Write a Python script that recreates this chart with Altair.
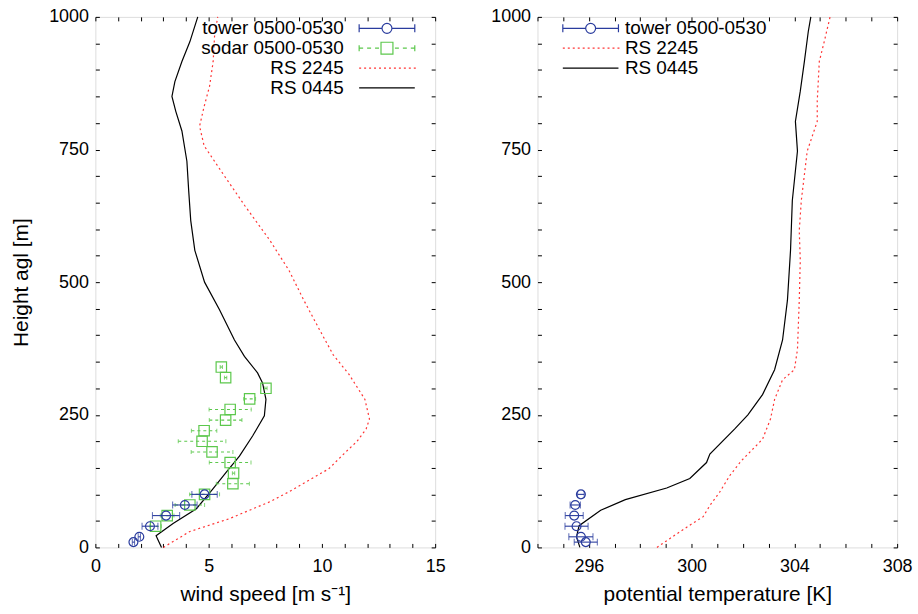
import altair as alt
import pandas as pd

# ---------------- data ----------------
ws_series = ["tower 0500-0530", "sodar 0500-0530", "RS 2245", "RS 0445"]
th_series = ["tower 0500-0530", "RS 2245", "RS 0445"]

tower_h = [10, 20, 40, 60, 80, 100]
tower_ws = [1.68, 1.94, 2.41, 3.12, 3.95, 4.82]
tower_ws_err = [0.05, 0.05, 0.35, 0.6, 0.54, 0.56]

sodar_h = [40, 60, 80, 100, 120, 140, 160, 180, 200, 220, 240, 260, 280, 300, 320, 340]
sodar_ws = [2.66, 3.17, 4.17, 4.82, 6.07, 6.1, 5.95, 5.15, 4.71, 4.8, 5.75, 5.95, 6.81, 7.53, 5.75, 5.56]
sodar_ws_err = [0.25, 0.3, 0.65, 0.66, 0.73, 0.05, 0.92, 0.92, 1.05, 0.56, 0.72, 0.93, 0.26, 0.05, 0.05, 0.05]

rs2245_ws_h = [0, 30, 54, 86, 105, 148, 176, 200, 223, 242, 279, 326, 363, 410, 466, 522, 579, 644, 700, 757, 794, 831, 869, 916, 963, 1000]
rs2245_ws = [3.0, 4.17, 5.9, 7.7, 8.55, 10.3, 10.96, 11.55, 11.95, 12.1, 11.9, 11.2, 10.5, 9.9, 9.2, 8.55, 7.7, 6.6, 5.7, 4.8, 4.6, 4.8, 5.04, 5.2, 5.26, 5.4]

rs0445_ws_h = [0, 22, 45, 73, 110, 142, 172, 210, 248, 279, 310, 329, 360, 391, 448, 500, 560, 616, 672, 728, 785, 822, 850, 878, 916, 953, 1000]
rs0445_ws = [2.92, 2.68, 3.43, 4.46, 5.18, 5.78, 6.36, 6.94, 7.46, 7.53, 7.38, 7.16, 6.58, 6.14, 5.48, 4.82, 4.39, 4.21, 4.12, 4.04, 3.82, 3.55, 3.38, 3.51, 3.82, 4.17, 4.52]

tower_th = [295.88, 295.69, 295.52, 295.43, 295.47, 295.69]
tower_th_err = [0.45, 0.47, 0.45, 0.35, 0.2, 0.13]

rs2245_th_h = [0, 17, 42, 58, 79, 104, 135, 163, 204, 242, 279, 316, 335, 373, 466, 541, 597, 654, 747, 803, 841, 916, 953, 1000]
rs2245_th = [298.65, 299.16, 299.93, 300.45, 300.71, 301.09, 301.48, 301.93, 302.76, 303.07, 303.23, 303.54, 304.0, 304.12, 304.19, 304.23, 304.19, 304.27, 304.5, 304.89, 304.89, 304.97, 305.16, 305.39]

rs0445_th_h = [0, 20, 41, 70, 90, 112, 130, 160, 176, 223, 250, 288, 335, 391, 466, 560, 654, 747, 803, 860, 916, 972, 1000]
rs0445_th = [295.65, 295.52, 295.62, 296.46, 297.42, 299.03, 299.93, 300.58, 300.71, 301.67, 302.19, 302.76, 303.23, 303.54, 303.73, 303.85, 303.92, 304.12, 304.04, 304.23, 304.39, 304.54, 304.64]

ws_ticks = list(range(0, 16))
th_ticks = list(range(294, 309))
h_ticks = list(range(0, 1001, 50))

# ---------------- style ----------------
FONT = "Liberation Sans"
BLUE = "#2a3c9e"
GREEN = "#5cc84c"
RED = "#ff3434"
BLACK = "#000000"

dots = "".join(f"M{-5.6 + k * 1.0:.2f},0H{-5.2 + k * 1.0:.2f}" for k in range(12))
PATH_TOWER = "M-5.6,0H-1M1,0H5.6M-5.6,-0.8V0.8M5.6,-0.8V0.8M-1,0A1,1,0,1,0,1,0A1,1,0,1,0,-1,0"
PATH_SODAR = ("M-5.6,0H-4.8M-4,0H-3.2M-2.4,0H-1.6M1.6,0H2.4M3.2,0H4M4.8,0H5.6"
              "M-5.6,-0.6V0.6M5.6,-0.6V0.6M-1.2,-1.2H1.2V1.2H-1.2Z")
PATH_DOT = dots
PATH_SOLID = "M-5.6,0H5.6"

YSCALE = alt.Scale(domain=[0, 1000], nice=False, zero=False)


def main_axis(orient, values, expr, title, title_pad, label_pad):
    kw = dict(orient=orient, values=values, labelExpr=expr, format="d",
              domain=False, grid=False, ticks=True, tickSize=4, tickColor="black",
              tickWidth=1, offset=-4, labelPadding=label_pad, labelFont=FONT,
              labelFontSize=18, labelColor="black", labelFlush=False,
              labelOverlap=False, titleFont=FONT, titleFontSize=21,
              titleFontWeight="normal", titleColor="black")
    if title is None:
        return alt.Axis(title=None, **kw)
    return alt.Axis(title=title, titlePadding=title_pad, **kw)


def mirror_axis(orient, values):
    return alt.Axis(orient=orient, values=values, labels=False, title=None,
                    domain=False, grid=False, ticks=True, tickSize=4,
                    tickColor="black", tickWidth=1, offset=-4)


def line_layer(xs, hs, xscale, color, dash=None, ax=None, ay=None):
    df = pd.DataFrame({"x": xs, "h": hs, "i": list(range(len(xs)))})
    mk = dict(color=color, strokeWidth=1.2)
    if dash is not None:
        mk["strokeDash"] = dash
    return alt.Chart(df).mark_line(**mk).encode(
        x=alt.X("x:Q", scale=xscale, axis=ax),
        y=alt.Y("h:Q", scale=YSCALE, axis=ay),
        order=alt.Order("i:Q"),
    )


def err_layers(xs, errs, hs, xscale, color, cap, dash=None):
    df = pd.DataFrame({"x": xs, "e": errs, "h": hs})
    df["lo"] = df["x"] - df["e"]
    df["hi"] = df["x"] + df["e"]
    mk = dict(color=color, strokeWidth=1.1)
    if dash is not None:
        mk["strokeDash"] = dash
    rule = alt.Chart(df).mark_rule(**mk).encode(
        x=alt.X("lo:Q", scale=xscale, axis=None),
        x2="hi:Q",
        y=alt.Y("h:Q", scale=YSCALE, axis=None),
    )
    cdf = pd.DataFrame({"x": list(df["lo"]) + list(df["hi"]), "h": list(hs) + list(hs)})
    caps = alt.Chart(cdf).mark_tick(orient="vertical", size=cap, thickness=1.1, color=color).encode(
        x=alt.X("x:Q", scale=xscale, axis=None),
        y=alt.Y("h:Q", scale=YSCALE, axis=None),
    )
    return [rule, caps]


def point_layer(xs, hs, xscale, color, shape, size):
    df = pd.DataFrame({"x": xs, "h": hs})
    return alt.Chart(df).mark_point(shape=shape, filled=False, size=size,
                                    strokeWidth=1.2, color=color, opacity=1).encode(
        x=alt.X("x:Q", scale=xscale, axis=None),
        y=alt.Y("h:Q", scale=YSCALE, axis=None),
    )


def legend_layer(names, colors, paths, lx, ly, align, loff):
    leg = alt.Legend(orient="none", legendX=lx, legendY=ly, title=None,
                     labelFont=FONT, labelFontSize=19, labelColor="black",
                     labelAlign=align, labelOffset={"expr": str(loff)}, labelLimit=400,
                     symbolSize=100, symbolStrokeWidth=1.2, symbolOffset=22,
                     symbolOpacity=1, rowPadding=0, padding=0)
    df = pd.DataFrame({"series": names})
    return alt.Chart(df).mark_point(filled=False, opacity=0).encode(
        color=alt.Color("series:N", scale=alt.Scale(domain=names, range=colors), legend=leg),
        shape=alt.Shape("series:N", scale=alt.Scale(domain=names, range=paths), legend=leg),
    )


# ---------------- left panel ----------------
XWS = alt.Scale(domain=[0, 15], nice=False, zero=False)
left = alt.layer(
    line_layer(rs2245_ws, rs2245_ws_h, XWS, RED, dash=[2, 3],
               ax=mirror_axis("top", ws_ticks), ay=mirror_axis("right", h_ticks)),
    line_layer(rs0445_ws, rs0445_ws_h, XWS, BLACK,
               ax=main_axis("bottom", ws_ticks, "datum.value % 5 == 0 ? datum.label : ''",
                            "wind speed [m s\u207b\u00b9]", 8, 10),
               ay=main_axis("left", h_ticks, "datum.value % 250 == 0 ? datum.label : ''",
                            "Height agl [m]", 17, 7)),
    *err_layers(sodar_ws, sodar_ws_err, sodar_h, XWS, GREEN, 4, dash=[3, 3]),
    point_layer(sodar_ws, sodar_h, XWS, GREEN, "square", 110),
    *err_layers(tower_ws, tower_ws_err, tower_h, XWS, BLUE, 7),
    point_layer(tower_ws, tower_h, XWS, BLUE, "circle", 80),
    legend_layer(ws_series, [BLUE, GREEN, RED, BLACK],
                 [PATH_TOWER, PATH_SODAR, PATH_DOT, PATH_SOLID], 262, 2, "right", -53),
).resolve_axis(x="independent", y="independent").properties(width=342, height=534)

# ---------------- right panel ----------------
XTH = alt.Scale(domain=[294, 308], nice=False, zero=False)
right = alt.layer(
    line_layer(rs2245_th, rs2245_th_h, XTH, RED, dash=[2, 3],
               ax=mirror_axis("top", th_ticks), ay=mirror_axis("right", h_ticks)),
    line_layer(rs0445_th, rs0445_th_h, XTH, BLACK,
               ax=main_axis("bottom", th_ticks, "(datum.value - 296) % 4 == 0 ? datum.label : ''",
                            "potential temperature [K]", 8, 10),
               ay=main_axis("left", h_ticks, "datum.value % 250 == 0 ? datum.label : ''",
                            None, 0, 7)),
    *err_layers(tower_th, tower_th_err, tower_h, XTH, BLUE, 7),
    point_layer(tower_th, tower_h, XTH, BLUE, "circle", 80),
    legend_layer(th_series, [BLUE, RED, BLACK],
                 [PATH_TOWER, PATH_DOT, PATH_SOLID], 22, 2, "left", 25),
).resolve_axis(x="independent", y="independent").properties(width=362, height=534)

chart = alt.hconcat(left, right, spacing=44).resolve_scale(
    color="independent", shape="independent", x="independent", y="independent"
).properties(
    padding={"left": 10, "right": 5, "top": 5, "bottom": 5},
    background="white",
).configure_view(stroke="black", strokeWidth=1.2).configure(font=FONT)

chart.save("out.html", embed_options={"renderer": "svg", "actions": False})
